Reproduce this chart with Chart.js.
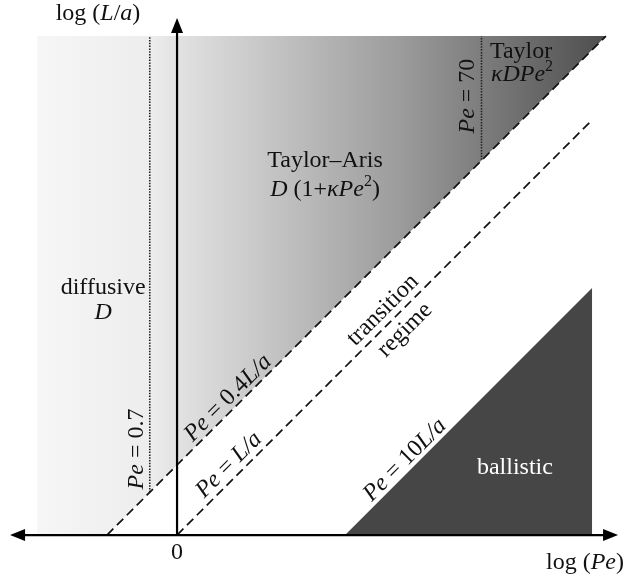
<!DOCTYPE html>
<html>
<head>
<meta charset="utf-8">
<script src="https://cdn.jsdelivr.net/npm/chart.js@4"></script>
<style>
  html, body { margin: 0; padding: 0; background: #fff; }
  #wrap { width: 626px; height: 578px; }
</style>
</head>
<body>
<div id="wrap"><canvas id="chart" width="626" height="578"></canvas></div>
<script>
// axis window, in log units (x = log Pe, y = log L/a)
const xRange = [-1.006, 2.551];
const yRange = [-0.244, 3.040];
const xAxisEnds = [-0.949, 2.506];
const yAxisTop = 2.938;

// regime boundaries
const shadedLeft = -0.795;
const shadedTop = 2.835;
const peLow = [[-0.398, 0], [2.437, 2.835]];     // Pe = 0.4 L/a
const peMid = [[0, 0], [2.36, 2.36]];            // Pe = L/a
const peHigh = [[0.955, 0], [2.358, 1.403], [2.358, 0]]; // Pe = 10 L/a (ballistic)
const pe07 = [[-0.155, 0.243], [-0.155, 2.835]];
const pe70 = [[1.73, 2.132], [1.73, 2.835]];

const toPts = arr => arr.map(p => ({ x: p[0], y: p[1] }));

const shadedPoly = [[shadedLeft, 0], peLow[0], peLow[1], [shadedLeft, shadedTop]];

// text labels: runs of [text, style] where style: r = roman, i = italic, s = superscript
const labels = [
  { x: -0.449, y: 2.960, rot: 0, runs: [['log (', 'r'], ['L', 'i'], ['/', 'r'], ['a', 'i'], [')', 'r']] },
  { x: 2.318, y: -0.159, rot: 0, runs: [['log (', 'r'], ['Pe', 'i'], [')', 'r']] },
  { x: 0, y: -0.102, rot: 0, runs: [['0', 'r']] },
  { x: -0.420, y: 1.403, rot: 0, runs: [['diffusive', 'r']] },
  { x: -0.420, y: 1.261, rot: 0, runs: [['D', 'i']] },
  { x: 0.841, y: 2.125, rot: 0, runs: [['Taylor\u2013Aris', 'r']] },
  { x: 0.841, y: 1.960, rot: 0, runs: [['D', 'i'], [' (1+', 'r'], ['\u03BAPe', 'i'], ['2', 's'], [')', 'r']] },
  { x: 1.955, y: 2.744, rot: 0, runs: [['Taylor', 'r']] },
  { x: 1.960, y: 2.614, rot: 0, runs: [['\u03BADPe', 'i'], ['2', 's']] },
  { x: 1.653, y: 2.494, rot: -90, runs: [['Pe', 'i'], [' = 70', 'r']] },
  { x: -0.227, y: 0.489, rot: -90, runs: [['Pe', 'i'], [' = 0.7', 'r']] },
  { x: 0.290, y: 0.778, rot: -45, runs: [['Pe', 'i'], [' = 0.4', 'r'], ['L/a', 'i']] },
  { x: 0.295, y: 0.398, rot: -45, runs: [['Pe', 'i'], [' = ', 'r'], ['L/a', 'i']] },
  { x: 1.170, y: 1.278, rot: -45, runs: [['transition', 'r']] },
  { x: 1.295, y: 1.165, rot: -45, runs: [['regime', 'r']] },
  { x: 1.295, y: 0.426, rot: -45, runs: [['Pe', 'i'], [' = 10', 'r'], ['L/a', 'i']] },
  { x: 1.920, y: 0.381, rot: 0, color: '#ffffff', runs: [['ballistic', 'r']] }
];

const FAMILY = '"Liberation Serif", "Times New Roman", serif';
const SIZE = 24;

function fontFor(style) {
  if (style === 'i') return 'italic ' + SIZE + 'px ' + FAMILY;
  if (style === 's') return Math.round(SIZE * 0.68) + 'px ' + FAMILY;
  return SIZE + 'px ' + FAMILY;
}

function drawRuns(c, runs, color) {
  let w = 0;
  runs.forEach(r => { c.font = fontFor(r[1]); w += c.measureText(r[0]).width; });
  let x = -w / 2;
  c.fillStyle = color || '#111';
  c.textBaseline = 'middle';
  c.textAlign = 'left';
  runs.forEach(r => {
    c.font = fontFor(r[1]);
    c.fillText(r[0], x, r[1] === 's' ? -8 : 0);
    x += c.measureText(r[0]).width;
  });
}

function arrow(c, x, y, dx, dy) {
  const len = 15, half = 6;
  const px = -dy, py = dx;
  c.beginPath();
  c.moveTo(x, y);
  c.lineTo(x - dx * len + px * half, y - dy * len + py * half);
  c.lineTo(x - dx * len - px * half, y - dy * len - py * half);
  c.closePath();
  c.fill();
}

const overlay = {
  id: 'overlay',
  afterDatasetsDraw(chart) {
    const c = chart.ctx;
    const xs = chart.scales.x, ys = chart.scales.y;
    const X = v => xs.getPixelForValue(v), Y = v => ys.getPixelForValue(v);
    c.save();
    // axes with arrows
    c.strokeStyle = '#000';
    c.fillStyle = '#000';
    c.lineWidth = 2.2;
    c.beginPath();
    c.moveTo(X(xAxisEnds[0]) + 6, Y(0));
    c.lineTo(X(xAxisEnds[1]) - 6, Y(0));
    c.moveTo(X(0), Y(0));
    c.lineTo(X(0), Y(yAxisTop) + 6);
    c.stroke();
    arrow(c, X(xAxisEnds[0]), Y(0), -1, 0);
    arrow(c, X(xAxisEnds[1]), Y(0), 1, 0);
    arrow(c, X(0), Y(yAxisTop), 0, -1);
    // labels
    labels.forEach(l => {
      c.save();
      c.translate(X(l.x), Y(l.y));
      c.rotate(l.rot * Math.PI / 180);
      drawRuns(c, l.runs, l.color);
      c.restore();
    });
    c.restore();
  }
};

function shadeGradient(context) {
  const chart = context.chart;
  const { ctx, chartArea, scales } = chart;
  if (!chartArea) return '#cccccc';
  const x0 = scales.x.getPixelForValue(shadedLeft);
  const x1 = scales.x.getPixelForValue(peLow[1][0]);
  const g = ctx.createLinearGradient(x0, 0, x1, 0);
  const stop = v => (scales.x.getPixelForValue(v) - x0) / (x1 - x0);
  g.addColorStop(0, '#f6f6f6');
  g.addColorStop(stop(-0.155), '#ededed');
  g.addColorStop(stop(0), '#e2e2e2');
  g.addColorStop(stop(1.26), '#9c9c9c');
  g.addColorStop(1, '#4e4e4e');
  return g;
}

const lineBase = { showLine: true, pointRadius: 0, fill: false, borderColor: '#111', tension: 0 };

new Chart(document.getElementById('chart'), {
  type: 'scatter',
  data: {
    datasets: [
      Object.assign({}, lineBase, { label: 'Pe = 0.4L/a', data: toPts(peLow), borderWidth: 1.7, borderDash: [9, 5] }),
      Object.assign({}, lineBase, { label: 'Pe = L/a', data: toPts(peMid), borderWidth: 1.7, borderDash: [9, 5] }),
      Object.assign({}, lineBase, { label: 'Pe = 0.7', data: toPts(pe07), borderWidth: 1.6, borderDash: [1.5, 1.3], borderColor: '#222' }),
      Object.assign({}, lineBase, { label: 'Pe = 70', data: toPts(pe70), borderWidth: 1.6, borderDash: [1.5, 1.3], borderColor: '#222' }),
      Object.assign({}, lineBase, { label: 'ballistic', data: toPts(peHigh.concat([peHigh[0]])), borderWidth: 0, borderColor: 'rgba(0,0,0,0)', fill: 'shape', backgroundColor: '#464646' }),
      Object.assign({}, lineBase, { label: 'shaded', data: toPts(shadedPoly.concat([shadedPoly[0]])), borderWidth: 0, borderColor: 'rgba(0,0,0,0)', fill: 'shape', backgroundColor: shadeGradient })
    ]
  },
  options: {
    responsive: false,
    animation: false,
    events: [],
    layout: { padding: 0 },
    scales: {
      x: { type: 'linear', display: false, min: xRange[0], max: xRange[1] },
      y: { type: 'linear', display: false, min: yRange[0], max: yRange[1] }
    },
    plugins: {
      legend: { display: false },
      tooltip: { enabled: false }
    }
  },
  plugins: [overlay]
});
</script>
</body>
</html>
